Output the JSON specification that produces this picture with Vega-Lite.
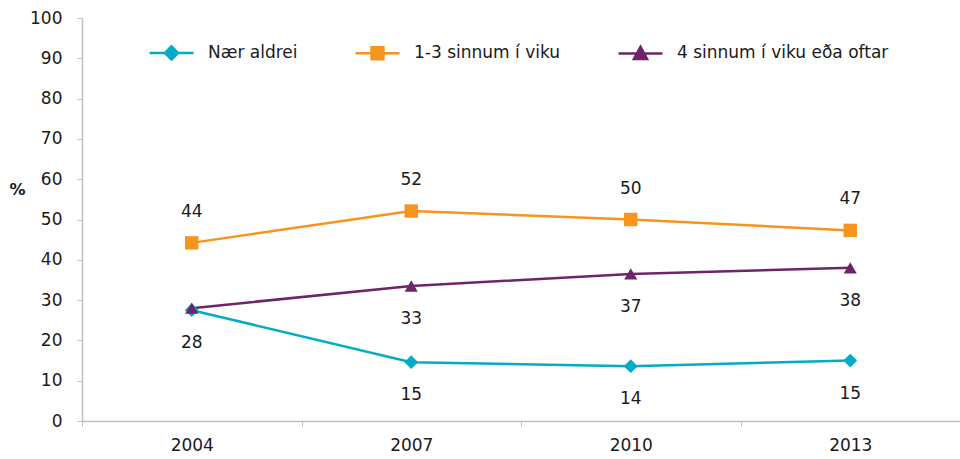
{
  "$schema": "https://vega.github.io/schema/vega-lite/v6.json",
  "width": 878,
  "height": 403,
  "autosize": {"type": "none"},
  "padding": {"left": 82, "top": 18, "right": 0, "bottom": 38},
  "background": "white",
  "config": {
    "view": {"stroke": null},
    "font": "DejaVu Sans",
    "axis": {"labelFont": "DejaVu Sans", "labelFontSize": 17, "labelColor": "#1a1a1a", "domainColor": "#BFBFBF", "tickColor": "#BFBFBF", "grid": false}
  },
  "data": {
    "values": [
      {"year": "2004", "series": "Nær aldrei", "value": 27.5, "label": "28"},
      {"year": "2007", "series": "Nær aldrei", "value": 14.6, "label": "15"},
      {"year": "2010", "series": "Nær aldrei", "value": 13.6, "label": "14"},
      {"year": "2013", "series": "Nær aldrei", "value": 15.0, "label": "15"},
      {"year": "2004", "series": "1-3 sinnum í viku", "value": 44.2, "label": "44"},
      {"year": "2007", "series": "1-3 sinnum í viku", "value": 52.1, "label": "52"},
      {"year": "2010", "series": "1-3 sinnum í viku", "value": 50.0, "label": "50"},
      {"year": "2013", "series": "1-3 sinnum í viku", "value": 47.3, "label": "47"},
      {"year": "2004", "series": "4 sinnum í viku eða oftar", "value": 28.0, "label": ""},
      {"year": "2007", "series": "4 sinnum í viku eða oftar", "value": 33.5, "label": "33"},
      {"year": "2010", "series": "4 sinnum í viku eða oftar", "value": 36.5, "label": "37"},
      {"year": "2013", "series": "4 sinnum í viku eða oftar", "value": 38.0, "label": "38"}
    ]
  },
  "encoding": {
    "x": {
      "field": "year", "type": "nominal",
      "scale": {"paddingInner": 0, "paddingOuter": 0},
      "axis": {"title": null, "labelAngle": 0, "tickBand": "extent", "tickSize": 5, "domainWidth": 1.5, "labelPadding": 11}
    },
    "y": {
      "field": "value", "type": "quantitative",
      "scale": {"domain": [0, 100]},
      "axis": {"values": [0,10,20,30,40,50,60,70,80,90,100], "title": "%", "titleAngle": 0, "titleFont": "DejaVu Sans", "titleFontSize": 16, "titleFontWeight": "bold", "titleColor": "#1a1a1a", "titleX": -65, "titleY": 171, "titleAlign": "center", "titleBaseline": "middle", "tickSize": 5, "labelPadding": 15, "domainWidth": 1.5}
    },
    "color": {
      "field": "series", "type": "nominal",
      "sort": ["Nær aldrei", "1-3 sinnum í viku", "4 sinnum í viku eða oftar"],
      "scale": {"domain": ["Nær aldrei", "1-3 sinnum í viku", "4 sinnum í viku eða oftar"], "range": ["#00ADC4", "#F7941E", "#6D2468"]},
      "legend": {
        "title": null,
        "orient": "none",
        "legendX": 66,
        "legendY": 11,
        "direction": "horizontal",
        "columnPadding": 52,
        "symbolSize": 1936,
        "labelFont": "DejaVu Sans",
        "labelFontSize": 17,
        "labelColor": "#1a1a1a",
        "labelOffset": 13,
        "labelLimit": 400,
        "encode": {
          "symbols": {
            "update": {
              "shape": {"signal": "datum.value === 'Nær aldrei' ? 'M-1,0L1,0M0,-0.3L0.3,0L0,0.3L-0.3,0Z' : datum.value === '1-3 sinnum í viku' ? 'M-1,0L1,0M-0.27,-0.27L0.27,-0.27L0.27,0.27L-0.27,0.27Z' : 'M-1,0L1,0M0,-0.3L0.3,0.26L-0.3,0.26Z'"},
              "fill": {"signal": "datum.value === 'Nær aldrei' ? '#00ADC4' : datum.value === '1-3 sinnum í viku' ? '#F7941E' : '#6D2468'"},
              "stroke": {"signal": "datum.value === 'Nær aldrei' ? '#00ADC4' : datum.value === '1-3 sinnum í viku' ? '#F7941E' : '#6D2468'"},
              "strokeWidth": {"value": 2.5},
              "opacity": {"value": 1},
              "fillOpacity": {"value": 1},
              "strokeOpacity": {"value": 1}
            }
          }
        }
      }
    }
  },
  "layer": [
    {
      "mark": {"type": "line", "strokeWidth": 2.5},
      "encoding": {"detail": {"field": "series"}}
    },
    {
      "transform": [{"filter": "datum.series === 'Nær aldrei'"}],
      "mark": {"type": "point", "filled": true, "opacity": 1, "shape": "diamond", "size": 190}
    },
    {
      "transform": [{"filter": "datum.series === '1-3 sinnum í viku'"}],
      "mark": {"type": "point", "filled": true, "opacity": 1, "shape": "square", "size": 180}
    },
    {
      "transform": [{"filter": "datum.series === '4 sinnum í viku eða oftar'"}],
      "mark": {"type": "point", "filled": true, "opacity": 1, "shape": "triangle-up", "size": 170}
    },
    {
      "transform": [{"filter": "datum.series === '1-3 sinnum í viku'"}],
      "mark": {"type": "text", "dy": -31, "fontSize": 17, "font": "DejaVu Sans"},
      "encoding": {"text": {"field": "label"}, "color": {"value": "#1a1a1a"}}
    },
    {
      "transform": [{"filter": "datum.series !== '1-3 sinnum í viku'"}],
      "mark": {"type": "text", "dy": 33, "fontSize": 17, "font": "DejaVu Sans"},
      "encoding": {"text": {"field": "label"}, "color": {"value": "#1a1a1a"}}
    }
  ]
}
